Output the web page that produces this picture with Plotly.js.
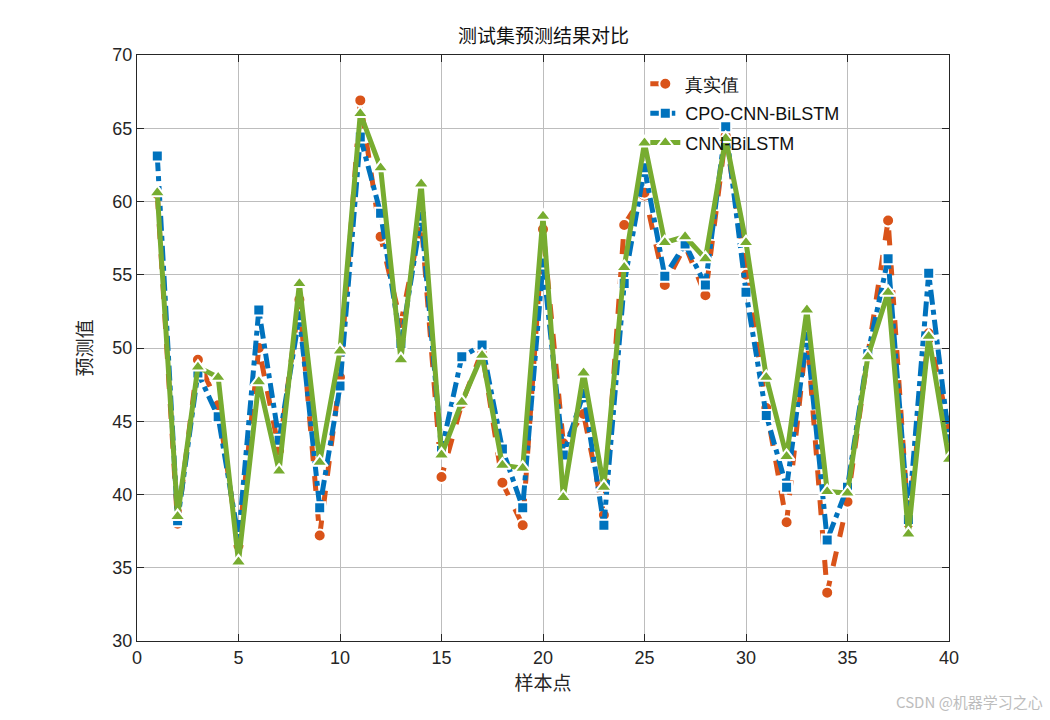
<!DOCTYPE html>
<html>
<head>
<meta charset="utf-8">
<script src="https://cdn.plot.ly/plotly-3.0.1.min.js"></script>
<style>
  html, body { margin: 0; padding: 0; background: #fff; }
  #plot { width: 1050px; height: 720px; }
</style>
</head>
<body>
<div id="plot"></div>
<script>
// sample index 1..40
var samples = [];
for (var i = 1; i <= 40; i++) samples.push(i);

// real values
var realValues = [60.5, 38.0, 49.2, 46.1, 36.5, 50.0, 43.0, 53.3, 37.2, 48.0,
                  66.9, 57.6, 51.7, 58.7, 41.2, 46.2, 49.8, 40.8, 37.9, 58.1,
                  43.5, 45.5, 38.6, 58.4, 60.6, 54.3, 57.0, 53.6, 64.5, 55.0,
                  45.9, 38.1, 51.0, 33.3, 39.5, 49.5, 58.7, 38.0, 51.0, 44.5];

// CPO-CNN-BiLSTM predictions
var cpoValues = [63.1, 38.2, 48.3, 45.3, 37.0, 52.6, 43.7, 52.2, 39.1, 47.4,
                 64.4, 59.2, 50.3, 59.0, 43.0, 49.4, 50.2, 43.1, 39.1, 55.8,
                 42.7, 46.9, 37.9, 54.4, 62.3, 54.9, 57.1, 54.3, 65.1, 53.8,
                 45.4, 40.5, 50.8, 36.9, 40.5, 49.6, 56.1, 38.3, 55.1, 43.8];

// CNN-BiLSTM predictions
var cnnValues = [60.6, 38.5, 48.7, 48.0, 35.4, 47.7, 41.6, 54.4, 42.2, 49.8,
                 66.0, 62.3, 49.2, 61.2, 42.7, 46.3, 49.5, 42.0, 41.8, 59.0,
                 39.8, 48.3, 40.5, 55.5, 64.0, 57.2, 57.6, 56.1, 64.3, 57.2,
                 48.0, 42.6, 52.6, 40.2, 40.1, 49.4, 53.8, 37.3, 50.8, 42.4];

var xTicks = [0, 5, 10, 15, 20, 25, 30, 35, 40];
var yTicks = [30, 35, 40, 45, 50, 55, 60, 65, 70];

var cjk = '"Noto Sans CJK SC", sans-serif';
var latin = '"Liberation Sans", Arial, sans-serif';

var traceReal = {
  x: samples, y: realValues, name: '真实值', legendgroup: 'g1',
  type: 'scatter', mode: 'lines+markers',
  line: {color: '#D95319', width: 5, dash: 'dash'},
  marker: {symbol: 'circle', size: 12, color: '#D95319', line: {color: '#fff', width: 2}}
};

var traceCpo = {
  x: samples, y: cpoValues, name: 'CPO-CNN-BiLSTM', legendgroup: 'g2',
  type: 'scatter', mode: 'lines+markers',
  line: {color: '#0072BD', width: 5, dash: 'dashdot'},
  marker: {symbol: 'square', size: 11, color: '#0072BD', line: {color: '#fff', width: 2}}
};

var traceCnn = {
  x: samples, y: cnnValues, name: 'CNN-BiLSTM', legendgroup: 'g3',
  type: 'scatter', mode: 'lines+markers',
  line: {color: '#77AC30', width: 5},
  marker: {symbol: 'triangle-up', size: 14, color: '#77AC30', line: {color: '#fff', width: 2}}
};

var axisCommon = {
  showline: true, linecolor: '#262626', linewidth: 1.2, mirror: 'ticks',
  ticks: 'inside', ticklen: 7, tickcolor: '#262626',
  showgrid: true, gridcolor: '#bdbdbd', gridwidth: 1, zeroline: false,
  tickfont: {family: latin, size: 18, color: '#262626'}
};

var layout = {
  width: 1050, height: 720,
  paper_bgcolor: '#fff', plot_bgcolor: '#fff',
  margin: {l: 137, r: 101, t: 55, b: 79},
  title: {text: '测试集预测结果对比', font: {family: cjk, size: 19, color: '#111'},
          x: 0.5177, xanchor: 'center', y: 0.95, yanchor: 'middle'},
  xaxis: Object.assign({}, axisCommon, {
    range: [0, 40], tickvals: xTicks, ticktext: xTicks.map(String),
    title: {text: '样本点', font: {family: cjk, size: 19, color: '#262626'}, standoff: 8}
  }),
  yaxis: Object.assign({}, axisCommon, {
    range: [30, 70], tickvals: yTicks, ticktext: yTicks.map(String),
    title: {text: '预测值', font: {family: cjk, size: 19, color: '#262626'}, standoff: 14}
  }),
  legend: {x: 0.626, y: 0.982, xanchor: 'left', yanchor: 'top',
           bgcolor: 'rgba(0,0,0,0)', borderwidth: 0,
           traceorder: 'grouped', tracegroupgap: 3,
           font: {family: latin, size: 18, color: '#111'}},
  showlegend: true,
  annotations: [{
    text: 'CSDN @机器学习之心', xref: 'paper', yref: 'paper',
    x: 1.118, y: -0.104, xanchor: 'right', yanchor: 'middle', showarrow: false,
    font: {family: cjk, size: 15, color: '#bdbdbd'}
  }]
};

Plotly.newPlot('plot', [traceReal, traceCpo, traceCnn], layout, {staticPlot: true});
</script>
</body>
</html>
